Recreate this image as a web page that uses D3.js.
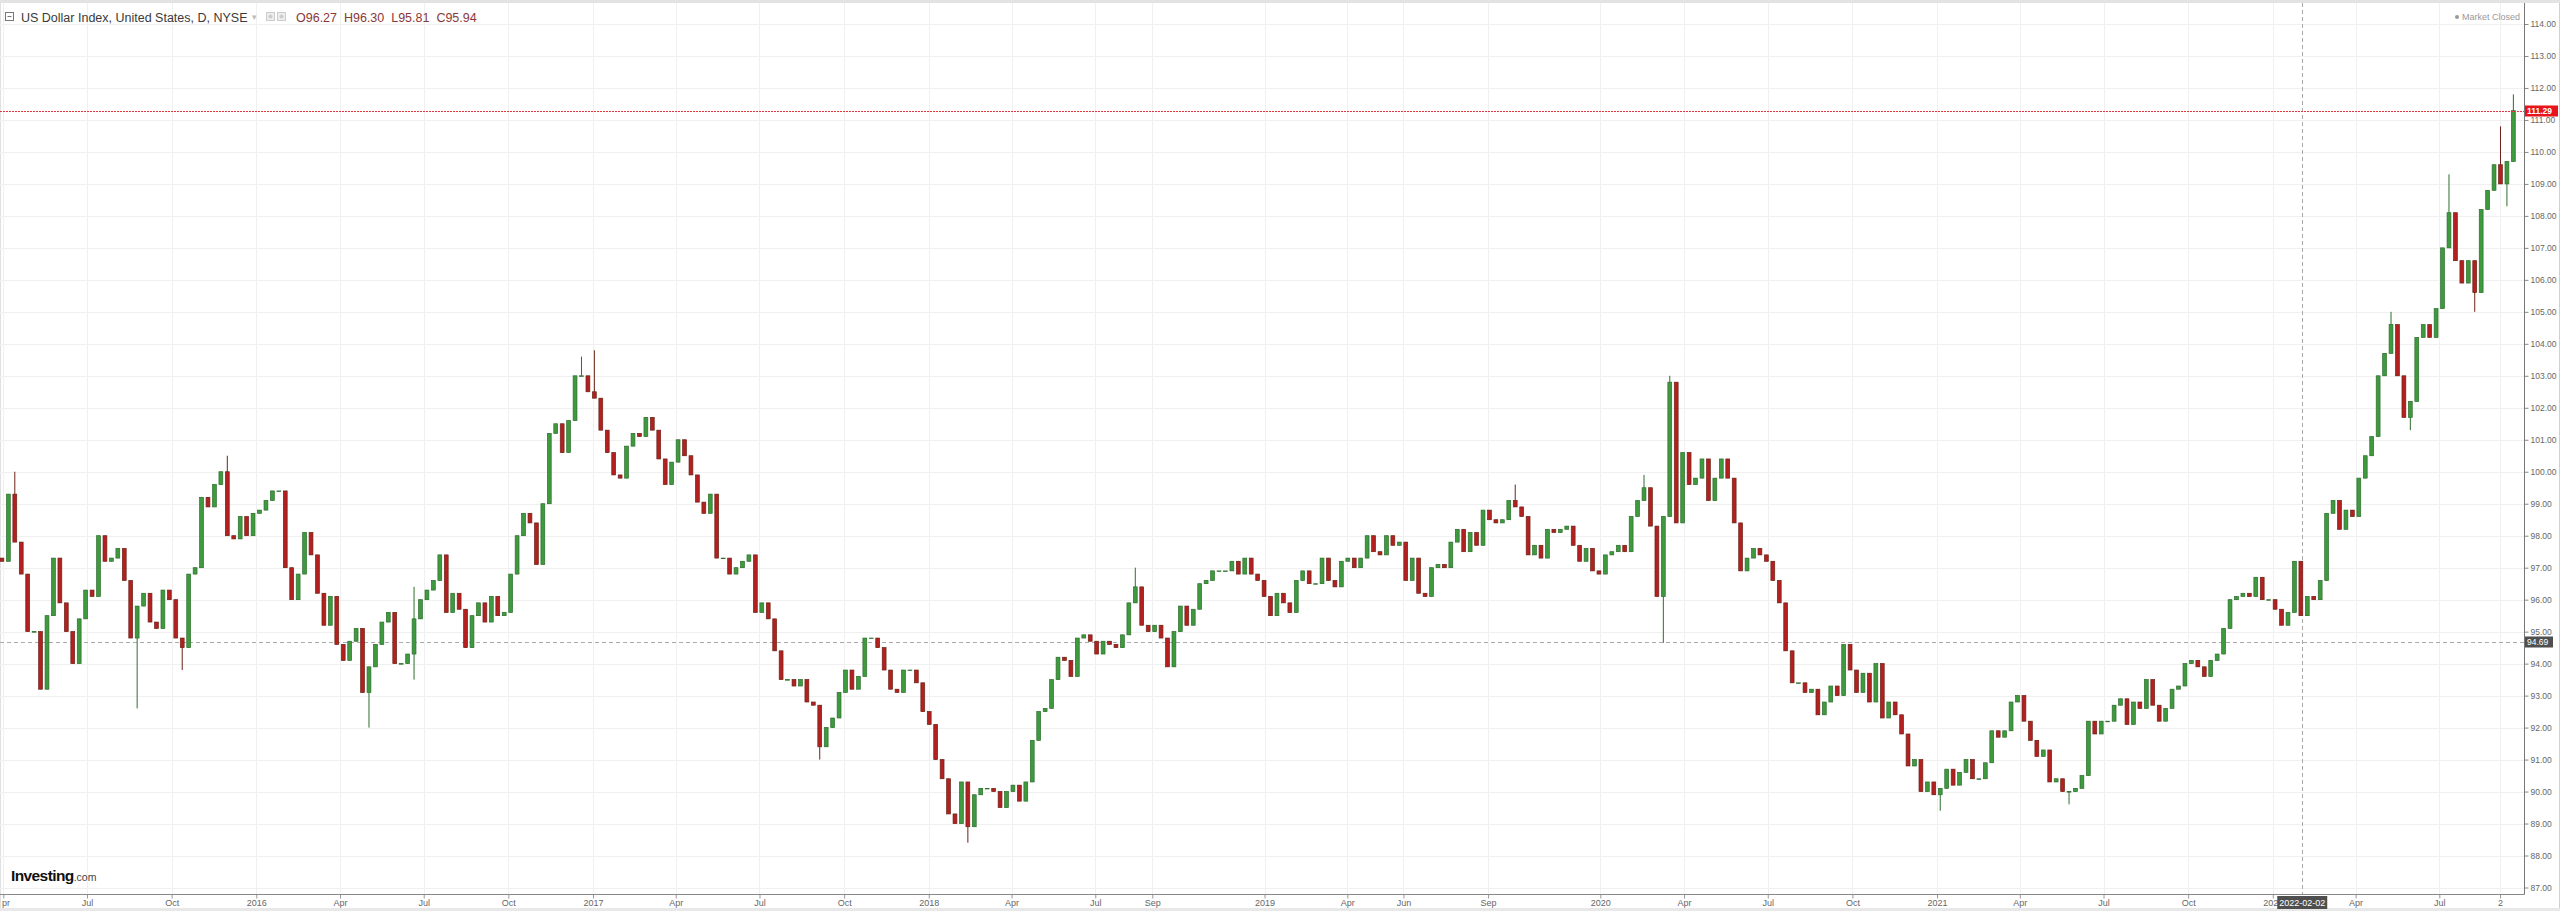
<html>
  <head>
    <meta charset="utf-8" />
    <script src="https://d3js.org/d3.v7.min.js"></script>
    <style>
      body {
        margin: 0;
        background: #fff;
        overflow: hidden;
      }
      svg {
        display: block;
        font-family: "Liberation Sans", Arial, sans-serif;
      }
    </style>
  </head>

  <body>
    <svg id="chart" width="2560" height="911"></svg>
    <script>
      // weekly closes (Fridays), one array per year
      var closes2015 = [97.3, 97.2, 99.3, 97.8, 96.8, 95.0, 95.0, 93.2, 95.5, 97.3,
        95.9, 95.0, 94.0, 95.4, 96.3, 96.1, 98.0, 97.2, 97.3, 97.6,
        96.6, 94.8, 95.8, 96.2, 95.3, 95.1, 96.3, 96.0, 94.8, 94.5,
        96.8, 97.0, 99.2, 98.9, 99.6, 100.0, 98.0, 97.9, 98.6, 98.0];
      var closes2016 = [98.7, 98.8, 99.1, 99.4, 99.4, 97.0, 96.0, 96.8, 98.1, 97.4,
        96.2, 95.2, 96.1, 94.6, 94.1, 94.7, 95.1, 93.1, 93.9, 94.6,
        95.3, 95.6, 94.0, 94.0, 94.3, 95.4, 96.0, 96.3, 96.6, 97.4,
        95.6, 96.2, 95.7, 94.5, 95.5, 95.9, 95.3, 96.1, 95.5, 95.6,
        96.8, 98.0, 98.7, 98.4, 97.1, 99.0, 101.2, 101.5, 100.6, 101.6,
        103.0, 103.0, 102.5];
      var closes2017 = [102.3, 101.3, 100.6, 99.9, 99.8, 100.8, 101.2, 101.1, 101.7, 101.3,
        100.4, 99.6, 100.3, 101.0, 100.5, 99.9, 99.05, 98.7, 99.3, 97.3,
        97.3, 96.8, 97.0, 97.2, 97.4, 95.6, 95.9, 95.4, 94.4, 93.5,
        93.5, 93.3, 93.5, 92.8, 92.7, 91.4, 92.0, 92.3, 93.1, 93.8,
        93.2, 93.6, 94.8, 94.8, 94.5, 93.8, 93.2, 93.1, 93.8, 93.8,
        93.4, 92.5];
      var closes2018 = [92.1, 91.0, 90.4, 89.3, 89.0, 90.3, 88.9, 89.9, 90.1, 90.1,
        90.0, 89.5, 90.0, 90.2, 89.7, 90.3, 91.6, 92.5, 92.6, 93.5,
        94.2, 94.1, 93.6, 94.8, 94.9, 94.7, 94.3, 94.7, 94.6, 94.5,
        94.9, 95.9, 96.4, 95.2, 95.0, 95.2, 94.8, 93.9, 95.0, 95.8,
        95.2, 95.7, 96.5, 96.6, 96.9, 96.9, 96.9, 97.2, 96.8, 97.3,
        96.8, 96.6];
      var closes2019 = [96.1, 95.5, 96.2, 95.9, 95.6, 96.6, 96.9, 96.5, 96.5, 97.3,
        96.6, 96.4, 97.2, 97.3, 97.0, 97.3, 98.0, 97.5, 97.4, 98.0,
        97.7, 97.8, 96.6, 97.3, 96.2, 96.1, 97.0, 97.1, 97.0, 97.8,
        98.2, 97.5, 98.1, 97.7, 98.8, 98.5, 98.4, 98.5, 99.1, 98.9,
        98.6, 97.4, 97.7, 97.3, 98.2, 98.1, 98.2, 98.3, 97.7, 97.2,
        97.6, 96.9];
      var closes2020 = [96.8, 97.4, 97.5, 97.7, 97.5, 98.6, 99.1, 99.5, 98.3, 96.1,
        98.6, 102.8, 98.4, 100.6, 99.6, 99.8, 100.4, 99.1, 99.8, 100.4,
        99.8, 98.4, 96.9, 97.3, 97.6, 97.4, 97.2, 96.6, 95.9, 94.4,
        93.4, 93.4, 93.1, 93.2, 92.4, 92.8, 93.3, 93.0, 94.6, 93.8,
        93.1, 93.7, 92.8, 94.0, 92.3, 92.8, 92.4, 91.8, 90.8, 91.0,
        90.0, 90.3];
      var closes2021 = [89.9, 90.1, 90.7, 90.2, 90.6, 91.0, 90.4, 90.4, 90.9, 91.9,
        91.7, 91.9, 92.8, 93.0, 92.2, 91.6, 91.1, 91.3, 90.3, 90.4,
        90.0, 90.0, 90.1, 90.5, 92.2, 91.8, 92.2, 92.2, 92.7, 92.9,
        92.1, 92.8, 92.6, 93.5, 92.7, 92.2, 92.6, 93.2, 93.3, 94.0,
        94.1, 93.9, 93.6, 94.1, 94.3, 95.1, 96.0, 96.1, 96.2, 96.1,
        96.7, 96.0, 96.0];
      var closes2022 = [95.7, 95.2, 95.6, 97.2, 95.5, 96.1, 96.0, 96.6, 98.7, 99.1,
        98.2, 98.8, 98.6, 99.8, 100.5, 101.1, 103.0, 103.7, 104.6, 103.0,
        101.7, 102.2, 104.2, 104.6, 104.2, 105.1, 107.0, 108.1, 106.6, 105.9,
        106.6, 105.6, 108.2, 108.8, 109.6, 109.0, 109.7, 111.29];
      // first Friday of each yearly array
      var weekStarts = ["2015-03-27", "2016-01-01", "2017-01-06", "2018-01-05",
        "2019-01-04", "2020-01-03", "2021-01-01", "2022-01-07"];

      // weeks whose range reaches well past the body
      var spikeWeeks = ["2015-04-17", "2015-08-28", "2015-10-16", "2015-12-04", "2016-05-06",
        "2016-06-24", "2016-12-23", "2017-01-06", "2017-09-08", "2018-02-16", "2018-08-17",
        "2019-10-04", "2020-02-21", "2020-03-13", "2020-03-20", "2021-01-08", "2021-05-28",
        "2022-05-13", "2022-06-03", "2022-07-15", "2022-08-12", "2022-09-09", "2022-09-16",
        "2022-09-23"];
      var spikeLows = [null, 92.6, 93.8, null, 92.0, 93.5, null, null, 91.0, 88.4, null,
        null, null, 94.65, null, 89.4, 89.6, null, 101.3, null, 105.0, null, 108.3, null];
      var spikeHighs = [100.0, null, null, 100.5, null, 96.4, 103.6, 103.8, null, null, 97.0,
        99.6, 99.9, null, 103.0, null, null, 105.0, null, 109.3, null, 110.8, null, 111.8];

      var tickDates = ["2015-04-01", "2015-07-01", "2015-10-01", "2016-01-01", "2016-04-01",
        "2016-07-01", "2016-10-01", "2017-01-01", "2017-04-01", "2017-07-01", "2017-10-01",
        "2018-01-01", "2018-04-01", "2018-07-01", "2018-09-01", "2019-01-01", "2019-04-01",
        "2019-06-01", "2019-09-01", "2020-01-01", "2020-04-01", "2020-07-01", "2020-10-01",
        "2021-01-01", "2021-04-01", "2021-07-01", "2021-10-01", "2022-01-01", "2022-04-01",
        "2022-07-01", "2022-09-05"];
      // the first label is clipped to "pr" by the left edge in the original
      var tickLabels = ["pr", "Jul", "Oct", "2016", "Apr", "Jul", "Oct", "2017", "Apr", "Jul",
        "Oct", "2018", "Apr", "Jul", "Sep", "2019", "Apr", "Jun", "Sep", "2020", "Apr", "Jul",
        "Oct", "2021", "Apr", "Jul", "Oct", "2022", "Apr", "Jul", "2"];
      var priceTicks = [87, 88, 89, 90, 91, 92, 93, 94, 95, 96, 97, 98, 99, 100, 101, 102,
        103, 104, 105, 106, 107, 108, 109, 110, 111, 112, 113, 114];

      var lastPrice = 111.29;
      var crossPrice = 94.69;
      var crossDate = "2022-02-02";
      var legendTitle = "US Dollar Index, United States, D, NYSE";
      var legendOHLC = "O96.27  H96.30  L95.81  C95.94";

      var parse = d3.timeParse("%Y-%m-%d");
      var fmt = d3.timeFormat("%Y-%m-%d");

      var series = [];
      [closes2015, closes2016, closes2017, closes2018, closes2019, closes2020,
        closes2021, closes2022].forEach(function (arr, k) {
        var start = parse(weekStarts[k]);
        arr.forEach(function (c, i) {
          series.push({ date: d3.timeDay.offset(start, 7 * i), close: c });
        });
      });
      series.forEach(function (d, i) {
        d.open = i ? series[i - 1].close : d.close;
        d.high = Math.max(d.open, d.close);
        d.low = Math.min(d.open, d.close);
        var s = spikeWeeks.indexOf(fmt(d.date));
        if (s >= 0) {
          if (spikeLows[s] != null) d.low = Math.min(d.low, spikeLows[s]);
          if (spikeHighs[s] != null) d.high = Math.max(d.high, spikeHighs[s]);
        }
      });

      var svg = d3.select("#chart"),
        width = +svg.attr("width"),
        height = +svg.attr("height"),
        plotRight = 2524,
        plotBottom = 894;

      var x = d3.scaleTime()
        .domain([parse("2015-04-01"), parse("2022-01-01")])
        .range([3.3, 2272.8]);
      var y = d3.scaleLinear().domain([87, 114]).range([887.5, 24]);

      // frame
      svg.append("rect").attr("width", width).attr("height", height).attr("fill", "#fff");
      svg.append("rect").attr("width", width).attr("height", 3).attr("fill", "#e3e3e3");
      svg.append("rect").attr("y", 908).attr("width", width).attr("height", 3).attr("fill", "#e8e8e8");
      svg.append("line").attr("x1", 0.5).attr("x2", 0.5).attr("y1", 3).attr("y2", 908)
        .attr("stroke", "#e0e0e0");
      svg.append("line").attr("x1", width - 0.5).attr("x2", width - 0.5).attr("y1", 3).attr("y2", 908)
        .attr("stroke", "#d0d0d0");

      // grid
      svg.append("g").selectAll("line").data(priceTicks).join("line")
        .attr("x1", 0).attr("x2", plotRight)
        .attr("y1", (d) => Math.round(y(d)) + 0.5).attr("y2", (d) => Math.round(y(d)) + 0.5)
        .attr("stroke", "#f0f0f0");
      svg.append("g").selectAll("line").data(tickDates).join("line")
        .attr("x1", (d) => Math.round(x(parse(d))) + 0.5).attr("x2", (d) => Math.round(x(parse(d))) + 0.5)
        .attr("y1", 3).attr("y2", plotBottom)
        .attr("stroke", "#f0f0f0");

      svg.append("clipPath").attr("id", "plot")
        .append("rect").attr("x", 0).attr("y", 3).attr("width", plotRight).attr("height", plotBottom - 3);

      // crosshair
      svg.append("line")
        .attr("x1", 0).attr("x2", plotRight)
        .attr("y1", Math.round(y(crossPrice)) + 0.5).attr("y2", Math.round(y(crossPrice)) + 0.5)
        .attr("stroke", "#aaa").attr("stroke-dasharray", "4,3");
      svg.append("line")
        .attr("x1", Math.round(x(parse(crossDate))) + 0.5).attr("x2", Math.round(x(parse(crossDate))) + 0.5)
        .attr("y1", 3).attr("y2", plotBottom)
        .attr("stroke", "#aaa").attr("stroke-dasharray", "4,3");

      // candles
      var step = x(series[1].date) - x(series[0].date);
      var up = { fill: "#3f9a3f", stroke: "#2d6e2d" },
        down = { fill: "#b42020", stroke: "#6a2418" };
      var candles = svg.append("g").attr("clip-path", "url(#plot)")
        .selectAll("g").data(series.slice(1)).join("g");

      candles.append("line")
        .attr("x1", (d) => x(d.date) - step / 2).attr("x2", (d) => x(d.date) - step / 2)
        .attr("y1", (d) => y(d.high)).attr("y2", (d) => y(d.low))
        .attr("stroke", (d) => (d.close >= d.open ? up : down).stroke)
        .attr("stroke-width", 1);

      candles.append("rect")
        .attr("x", (d) => x(d.date) - step / 2 - (step - 2.6) / 2)
        .attr("width", step - 2.6)
        .attr("y", (d) => y(Math.max(d.open, d.close)))
        .attr("height", (d) => Math.max(0.6, Math.abs(y(d.open) - y(d.close))))
        .attr("fill", (d) => (d.close >= d.open ? up : down).fill)
        .attr("stroke", (d) => (d.close >= d.open ? up : down).stroke)
        .attr("stroke-width", 0.7);

      // last price line
      svg.append("line")
        .attr("x1", 0).attr("x2", plotRight)
        .attr("y1", Math.round(y(lastPrice)) + 0.5).attr("y2", Math.round(y(lastPrice)) + 0.5)
        .attr("stroke", "#e2383d").attr("stroke-dasharray", "2,1");

      // axes
      var yAxis = d3.axisRight(y).tickValues(priceTicks)
        .tickFormat(d3.format(".2f")).tickSize(4).tickPadding(2);
      var gy = svg.append("g")
        .attr("transform", "translate(" + (plotRight + 0.5) + ",0)")
        .call(yAxis)
        .attr("font-size", 8.5)
        .attr("font-family", "'Liberation Sans', Arial, sans-serif");
      gy.select(".domain").remove();
      gy.selectAll("line").attr("stroke", "#888");
      gy.selectAll("text").attr("fill", "#666");

      var xAxis = d3.axisBottom(x)
        .tickValues(tickDates.map(parse))
        .tickFormat((d, i) => tickLabels[i])
        .tickSize(4).tickPadding(1);
      var gx = svg.append("g")
        .attr("transform", "translate(0," + (plotBottom + 0.5) + ")")
        .call(xAxis)
        .attr("font-size", 9)
        .attr("font-family", "'Liberation Sans', Arial, sans-serif");
      gx.select(".domain").remove();
      gx.selectAll("line").attr("stroke", "#999");
      gx.selectAll("text").attr("fill", "#666");
      gx.selectAll("text").filter((d, i) => i === 0)
        .attr("text-anchor", "start").attr("x", -1.8);

      svg.append("line").attr("x1", plotRight + 0.5).attr("x2", plotRight + 0.5)
        .attr("y1", 3).attr("y2", plotBottom + 0.5).attr("stroke", "#777");
      svg.append("line").attr("x1", 0).attr("x2", plotRight + 0.5)
        .attr("y1", plotBottom + 0.5).attr("y2", plotBottom + 0.5).attr("stroke", "#888");

      // price tags on the right axis
      function tag(value, color, w, bold) {
        var yy = Math.round(y(value));
        svg.append("rect").attr("x", plotRight + 1).attr("y", yy - 5.5)
          .attr("width", w).attr("height", 11).attr("fill", color);
        svg.append("text").attr("x", plotRight + 3).attr("y", yy + 3.2)
          .attr("fill", "#fff").attr("font-size", 8.5)
          .attr("font-weight", bold ? "bold" : "normal")
          .text(d3.format(".2f")(value));
      }
      tag(lastPrice, "#e8131b", 33, true);
      tag(crossPrice, "#4f4f4f", 28, false);

      // date tag on the bottom axis
      var cx = x(parse(crossDate));
      svg.append("rect").attr("x", cx - 25).attr("y", plotBottom + 2)
        .attr("width", 50).attr("height", 13).attr("fill", "#4f4f4f");
      svg.append("text").attr("x", cx).attr("y", plotBottom + 11.5)
        .attr("text-anchor", "middle").attr("fill", "#fff").attr("font-size", 9)
        .text(crossDate);

      // legend
      svg.append("rect").attr("x", 5.5).attr("y", 12.5).attr("width", 8).attr("height", 8)
        .attr("fill", "none").attr("stroke", "#777");
      svg.append("line").attr("x1", 7.5).attr("x2", 11.5).attr("y1", 16.5).attr("y2", 16.5)
        .attr("stroke", "#777");
      svg.append("text").attr("x", 21).attr("y", 21.5)
        .attr("font-size", 12.5).attr("fill", "#3a3a3a").text(legendTitle);
      svg.append("text").attr("x", 252).attr("y", 20)
        .attr("font-size", 9).attr("fill", "#bbb").text("\u25BE");
      [266.5, 277.5].forEach(function (bx) {
        svg.append("rect").attr("x", bx).attr("y", 12.5).attr("width", 8).attr("height", 8)
          .attr("fill", "#eee").attr("stroke", "#ccc");
        svg.append("circle").attr("cx", bx + 4).attr("cy", 16.5).attr("r", 2)
          .attr("fill", "#ccc");
      });
      svg.append("text").attr("x", 296).attr("y", 21.5)
        .attr("font-size", 12.5).attr("fill", "#8a3838")
        .attr("xml:space", "preserve").style("white-space", "pre")
        .text(legendOHLC);

      // market status
      svg.append("circle").attr("cx", 2457).attr("cy", 17).attr("r", 2).attr("fill", "#999");
      svg.append("text").attr("x", 2462).attr("y", 20)
        .attr("font-size", 9).attr("fill", "#999").text("Market Closed");

      // logo
      var logo = svg.append("text").attr("x", 11).attr("y", 881);
      logo.append("tspan").attr("font-size", 15.5).attr("font-weight", "bold")
        .attr("fill", "#111").attr("letter-spacing", -0.6).text("Investing");
      logo.append("tspan").attr("font-size", 10.5).attr("fill", "#444").text(".com");
    </script>
  </body>
</html>
